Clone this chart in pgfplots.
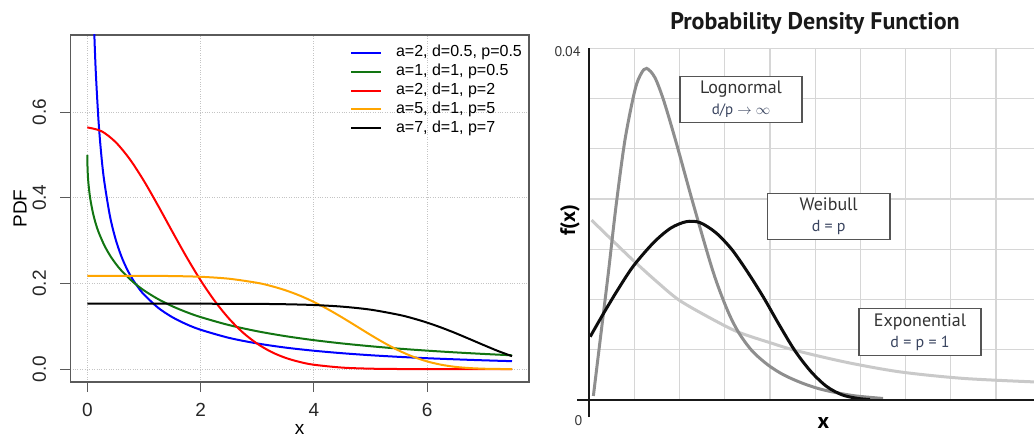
\documentclass[border=0pt]{standalone}
\usepackage{fontspec}
\setmainfont{Liberation Sans}
\newfontfamily\ptsans{PT Sans}
\usepackage{pgfplots}
\pgfplotsset{compat=1.18}

\definecolor{rgreen}{HTML}{127512}
\definecolor{rorange}{HTML}{FFA500}
\definecolor{framegray}{HTML}{5A5A5A}
\definecolor{dotgray}{HTML}{C4C4C4}
\definecolor{lognormalgray}{HTML}{8E8E8E}
\definecolor{expgray}{HTML}{C9C9C9}
\definecolor{gridgray}{HTML}{D6D6D6}
\definecolor{boxgray}{HTML}{555555}
\definecolor{textgray}{HTML}{333333}
\definecolor{subgray}{HTML}{3A4560}

\begin{document}
\begin{tikzpicture}
\useasboundingbox (0pt,0pt) rectangle (1034pt,438pt);

% Generalized gamma densities f(x; a, d, p)
\begin{axis}[
  at={(70.3pt,56pt)}, anchor=south west,
  scale only axis, width=458.7pt, height=347pt,
  xmin=-0.3, xmax=7.8, ymin=-0.03, ymax=0.78,
  xtick={0,2,4,6}, ytick={0,0.2,0.4,0.6},
  xticklabels={0,2,4,6}, yticklabels={0.0,0.2,0.4,0.6},
  tick pos=left, tick align=outside, major tick length=10pt,
  axis line style={framegray, line width=1.1pt},
  tick style={framegray, line width=1.1pt},
  major tick style={framegray, line width=1.1pt},
  grid=major, major grid style={dotgray, dotted, line width=1pt},
  tick label style={font=\fontsize{19}{19}\selectfont, text=black!85},
  xticklabel style={anchor=north, yshift=-7.6pt},
  yticklabel style={xshift=-10.7pt, rotate=90, anchor=south},
  xlabel={x}, ylabel={PDF},
  label style={font=\fontsize{19}{19}\selectfont},
  xlabel style={at={(axis description cs:0.5,-0.138)}, anchor=center},
  ylabel style={at={(axis description cs:-0.1097,0.5)}, anchor=center},
  legend style={draw=none, fill=none, inner sep=0pt, outer sep=0pt,
    at={(axis description cs:0.6098,0.9713)}, anchor=north west,
    font=\fontsize{16}{16}\selectfont, row sep=3.4pt, column sep=14pt,
    nodes={inner sep=0pt, text height=12pt, text depth=3.5pt}},
  legend cell align=left,
  legend image code/.code={\draw[#1] (0pt,0pt) -- (30pt,0pt);},
]
\addplot[blue, line width=2pt, smooth] coordinates {
 (0.10,0.894) (0.12,0.799) (0.15,0.694) (0.2,0.5763) (0.25,0.4965) (0.3,0.4382)
 (0.4,0.3574) (0.5,0.3033) (0.6,0.2640) (0.7,0.2338) (0.8,0.2100) (0.9,0.1906)
 (1.0,0.1743) (1.25,0.1434) (1.5,0.1214) (1.75,0.1049) (2,0.0920) (2.5,0.0731)
 (3,0.0600) (3.5,0.0503) (4,0.0430) (4.5,0.0372) (5,0.0325) (5.5,0.0287)
 (6,0.0255) (6.5,0.0229) (7,0.0206) (7.5,0.0186)};
\addlegendentry{a=2, d=0.5, p=0.5}
\addplot[rgreen, line width=2pt, smooth] coordinates {
 (0,0.5) (0.005,0.4659) (0.01,0.4524) (0.02,0.4340) (0.05,0.3998) (0.1,0.3645)
 (0.15,0.3394) (0.2,0.3197) (0.3,0.2892) (0.4,0.2657) (0.5,0.2466) (0.6,0.2304)
 (0.8,0.2044) (1,0.1839) (1.25,0.1635) (1.5,0.1469) (1.75,0.1332) (2,0.1216)
 (2.5,0.1029) (3,0.0885) (3.5,0.0770) (4,0.0677) (4.5,0.0600) (5,0.0535)
 (5.5,0.0479) (6,0.0432) (6.5,0.0391) (7,0.0355) (7.5,0.0323)};
\addlegendentry{a=1, d=1, p=0.5}
\addplot[red, line width=2pt, smooth] coordinates {
 (0,0.5642) (0.25,0.5555) (0.5,0.5300) (0.75,0.4902) (1,0.4394) (1.25,0.3817)
 (1.5,0.3215) (1.75,0.2624) (2,0.2076) (2.25,0.1592) (2.5,0.1183) (2.75,0.0852)
 (3,0.0595) (3.25,0.0402) (3.5,0.0264) (3.75,0.0168) (4,0.0103) (4.5,0.0036)
 (5,0.0011) (5.5,0.0003) (6,0.0001) (6.5,0) (7,0) (7.5,0)};
\addlegendentry{a=2, d=1, p=2}
\addplot[rorange, line width=2pt, smooth] coordinates {
 (0,0.2178) (1,0.2177) (1.5,0.2173) (2,0.2156) (2.5,0.2111) (3,0.2015)
 (3.25,0.1939) (3.5,0.1841) (3.75,0.1718) (4,0.1569) (4.25,0.1398) (4.5,0.1207)
 (4.75,0.1005) (5,0.0801) (5.25,0.0608) (5.5,0.0435) (5.75,0.0291) (6,0.0181)
 (6.25,0.0103) (6.5,0.0053) (6.75,0.0025) (7,0.0010) (7.25,0.0004) (7.5,0.0001)};
\addlegendentry{a=5, d=1, p=5}
\addplot[black, line width=2pt, smooth] coordinates {
 (0,0.1527) (1,0.1527) (2,0.1527) (3,0.1523) (3.5,0.1515) (4,0.1497)
 (4.5,0.1459) (5,0.1389) (5.5,0.1269) (5.75,0.1186) (6,0.1087) (6.25,0.0971)
 (6.5,0.0842) (6.75,0.0703) (7,0.0562) (7.25,0.0425) (7.5,0.0302)};
\addlegendentry{a=7, d=1, p=7}
\end{axis}

% Special cases of the generalized gamma family
\begin{axis}[
  at={(589.3pt,38pt)}, anchor=south west,
  scale only axis, width=444.7pt, height=351.7pt,
  xmin=0, xmax=9.84, ymin=0, ymax=7,
  axis line style={draw=none},
  xtick={1,...,9}, ytick={1,...,7},
  xticklabels={}, yticklabels={},
  major tick length=0pt,
  grid=major, major grid style={gridgray, line width=1.2pt},
  clip=false,
]
\addplot[expgray, line width=3pt, smooth] coordinates {
 (0.05,3.58) (0.53,3.16) (0.97,2.78) (1.5,2.35) (2.0,1.98) (2.74,1.60)
 (3.3,1.35) (4.0,1.14) (4.59,0.98) (5.69,0.75) (6.87,0.56) (8.27,0.43) (9.84,0.36)};
\addplot[lognormalgray, line width=3pt, smooth] coordinates {
 (0.09,0.08) (0.24,1.19) (0.42,2.52) (0.59,3.85) (0.79,5.18) (1.01,6.17)
 (1.15,6.50) (1.27,6.60) (1.45,6.42) (1.65,5.95) (1.93,5.10) (2.30,3.90)
 (2.74,2.55) (3.05,1.80) (3.30,1.35) (3.60,0.98) (3.95,0.70) (4.3,0.50)
 (4.7,0.34) (5.1,0.22) (5.5,0.14) (5.9,0.08) (6.5,0.03)};
\addplot[black!95, line width=3pt, smooth] coordinates {
 (0.02,1.26) (0.30,1.70) (0.60,2.15) (0.97,2.66) (1.42,3.13) (1.80,3.42)
 (2.15,3.55) (2.45,3.53) (2.80,3.33) (3.15,3.00) (3.50,2.55) (3.85,2.05)
 (4.20,1.50) (4.55,0.98) (4.90,0.57) (5.25,0.27) (5.60,0.10) (5.95,0.03) (6.21,0.01)};
\draw[black!90, line width=2.3pt] (axis cs:-0.265,0) -- (axis cs:10,0);
\draw[black!90, line width=2.3pt] (axis cs:0,-0.34) -- (axis cs:0,7);
\end{axis}

\node[font=\ptsans\bfseries\fontsize{24}{24}\selectfont, text=black!90] at (815pt,415pt) {Probability Density Function};
\node[font=\ptsans\fontsize{14}{14}\selectfont, text=textgray] at (567.5pt,386pt) {0.04};
\node[font=\ptsans\fontsize{14}{14}\selectfont, text=textgray] at (578.5pt,17pt) {0};
\node[rotate=90, font=\ptsans\bfseries\fontsize{21}{21}\selectfont] at (570pt,218pt) {f(x)};
\node[font=\ptsans\bfseries\fontsize{22}{22}\selectfont] at (823.3pt,15.3pt) {x};

\node[draw=boxgray, line width=1.2pt, fill=white, minimum width=122pt, minimum height=46pt,
  inner sep=0pt, align=center, text=textgray, font=\ptsans\fontsize{18}{21}\selectfont]
  at (741pt,338.5pt) {Lognormal\\{\color{subgray}\fontsize{15}{21}\selectfont d/p $\rightarrow$ $\infty$}};
\node[draw=boxgray, line width=1.2pt, fill=white, minimum width=122.7pt, minimum height=46pt,
  inner sep=0pt, align=center, text=textgray, font=\ptsans\fontsize{18}{21}\selectfont]
  at (828.7pt,221.7pt) {Weibull\\{\color{subgray}\fontsize{16}{21}\selectfont d = p}};
\node[draw=boxgray, line width=1.2pt, fill=white, minimum width=122pt, minimum height=47pt,
  inner sep=0pt, align=center, text=textgray, font=\ptsans\fontsize{18}{21}\selectfont]
  at (920pt,105.7pt) {Exponential\\{\color{subgray}\fontsize{16}{21}\selectfont d = p = 1}};
\end{tikzpicture}
\end{document}
